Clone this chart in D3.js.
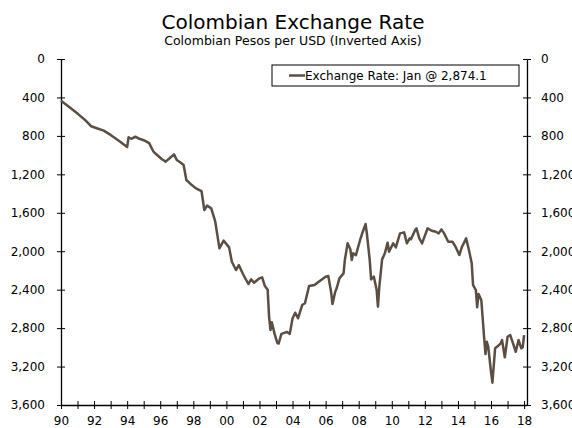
<!DOCTYPE html>
<html>
<head>
<meta charset="utf-8">
<script src="https://cdnjs.cloudflare.com/ajax/libs/d3/7.8.5/d3.min.js"></script>
<style>
  body { margin: 0; background: #fff; }
  text { font-family: "DejaVu Sans", Verdana, sans-serif; fill: #000; }
</style>
</head>
<body>
<div class="chart"></div>
<script>
// monthly readings, pesos per USD
var months = [
  "1990-01","1990-07","1991-01","1991-07","1991-11","1992-03","1992-08","1993-01","1993-07","1994-01",
  "1994-02","1994-04","1994-07","1994-10","1995-01","1995-05","1995-08","1995-10","1996-02","1996-05",
  "1996-08","1996-11","1997-01","1997-04","1997-06","1997-08","1997-11","1998-03","1998-07","1998-09",
  "1998-11","1999-02","1999-05","1999-08","1999-11","2000-03","2000-05","2000-08","2000-10","2001-01",
  "2001-05","2001-07","2001-09","2002-01","2002-03","2002-05","2002-07","2002-08","2002-09","2002-10",
  "2002-12","2003-02","2003-03","2003-05","2003-07","2003-09","2003-11","2004-01","2004-03","2004-05",
  "2004-08","2004-10","2005-01","2005-05","2005-08","2006-01","2006-03","2006-05","2006-06","2006-08",
  "2006-09","2006-11","2007-02","2007-03","2007-05","2007-07","2007-08","2007-09","2007-11","2008-02",
  "2008-04","2008-06","2008-07","2008-09","2008-10","2008-12","2009-02","2009-03","2009-04","2009-06",
  "2009-08","2009-10","2009-11","2010-02","2010-04","2010-07","2010-10","2010-12","2011-02","2011-03",
  "2011-06","2011-07","2011-09","2011-11","2012-03","2012-06","2012-09","2012-11","2013-01","2013-03",
  "2013-06","2013-09","2013-11","2014-02","2014-04","2014-07","2014-09","2014-11","2014-12","2015-02",
  "2015-03","2015-04","2015-06","2015-08","2015-09","2015-10","2015-11","2016-01","2016-02","2016-04",
  "2016-06","2016-08","2016-09","2016-11","2017-01","2017-03","2017-05","2017-07","2017-09","2017-11",
  "2017-12","2018-01"
];
var rates = [
  434, 500, 568, 640, 700, 720, 745, 790, 850, 916,
  815, 830, 808, 830, 845, 875, 960, 989, 1040, 1068,
  1030, 992, 1051, 1080, 1103, 1259, 1300, 1346, 1374, 1571,
  1526, 1554, 1693, 1970, 1890, 1960, 2109, 2196, 2144, 2237,
  2341, 2293, 2327, 2282, 2272, 2362, 2400, 2680, 2820, 2740,
  2860, 2955, 2960, 2860, 2850, 2840, 2860, 2700, 2640, 2698,
  2560, 2542, 2362, 2352, 2317, 2265, 2258, 2421, 2550, 2421,
  2386, 2282, 2230, 2092, 1918, 1980, 2092, 2022, 2040, 1883,
  1797, 1717, 1821, 2092, 2293, 2265, 2404, 2577, 2369, 2085,
  2022, 1911, 2005, 1918, 1960, 1814, 1804, 1918, 1866, 1876,
  1779, 1762, 1866, 1918, 1762, 1787, 1797, 1814, 1773, 1814,
  1901, 1901, 1946, 2040, 1953, 1866, 1988, 2126, 2352, 2404,
  2584, 2445, 2508, 2890, 3070, 2942, 2994, 3254, 3368, 3010,
  2987, 2958, 2924, 3104, 2890, 2872, 2958, 3046, 2924, 3010,
  3000, 2874
];
var yTicks = [0, 400, 800, 1200, 1600, 2000, 2400, 2800, 3200, 3600];
var legendLabel = "Exchange Rate: Jan @ 2,874.1";

var parseMonth = d3.timeParse("%Y-%m");
var data = months.map(function(m, i) { return {date: parseMonth(m), rate: rates[i]}; });

var margin = {top: 59, right: 45, bottom: 23, left: 61},
    width = 572 - margin.left - margin.right,
    height = 428 - margin.top - margin.bottom;

var x = d3.scaleTime()
    .domain([new Date(1990, 0, 1), new Date(2018, 2, 6)])
    .range([0, width]);

// inverted axis: 0 at the top
var y = d3.scaleLinear()
    .domain([0, 3600])
    .range([0, height]);

var svg = d3.select(".chart").append("svg")
    .attr("width", 572)
    .attr("height", 428);

svg.append("text")
    .attr("x", 293).attr("y", 29)
    .attr("text-anchor", "middle")
    .style("font-size", "20px")
    .text("Colombian Exchange Rate");

svg.append("text")
    .attr("x", 293).attr("y", 45)
    .attr("text-anchor", "middle")
    .style("font-size", "12.5px")
    .text("Colombian Pesos per USD (Inverted Axis)");

var graph = svg.append("g")
    .attr("transform", "translate(" + margin.left + "," + margin.top + ")");

var fmt = d3.format(",");

// crossing ticks on both y axes
function crossTicks(g) {
  g.select(".domain").attr("stroke", "#000").attr("stroke-width", 1.3);
  g.selectAll(".tick line").attr("stroke", "#000").attr("x1", -4).attr("x2", 4);
  g.selectAll(".tick text").style("font-size", "12px");
}

graph.append("g")
    .call(d3.axisLeft(y).tickValues(yTicks).tickFormat(fmt).tickSizeOuter(0).tickPadding(10))
    .call(crossTicks);

graph.append("g")
    .attr("transform", "translate(" + width + ",0)")
    .call(d3.axisRight(y).tickValues(yTicks).tickFormat(fmt).tickSizeOuter(0).tickPadding(8))
    .call(crossTicks);

var xAxis = graph.append("g")
    .attr("transform", "translate(0," + height + ")")
    .call(d3.axisBottom(x)
      .ticks(d3.timeYear.every(1))
      .tickFormat(function(d) { return d.getFullYear() % 2 === 0 ? d3.timeFormat("%y")(d) : ""; })
      .tickSizeOuter(0)
      .tickPadding(5));
xAxis.select(".domain").attr("stroke", "#000").attr("stroke-width", 1.3);
xAxis.selectAll(".tick line").attr("stroke", "#000").attr("y1", -4).attr("y2", 4);
xAxis.selectAll(".tick text").style("font-size", "12px");

var line = d3.line()
    .x(function(d) { return x(d.date); })
    .y(function(d) { return y(d.rate); });

graph.append("path")
    .datum(data)
    .attr("fill", "none")
    .attr("stroke", "#5b4e43")
    .attr("stroke-width", 2.5)
    .attr("stroke-linejoin", "round")
    .attr("d", line);

// legend
var legend = svg.append("g").attr("transform", "translate(272,65)");
legend.append("rect")
    .attr("width", 247).attr("height", 21)
    .attr("fill", "#fff").attr("stroke", "#000");
legend.append("line")
    .attr("x1", 17).attr("x2", 33).attr("y1", 10.5).attr("y2", 10.5)
    .attr("stroke", "#5b4e43").attr("stroke-width", 2.5);
legend.append("text")
    .attr("x", 33).attr("y", 15)
    .style("font-size", "12px")
    .text(legendLabel);
</script>
</body>
</html>
